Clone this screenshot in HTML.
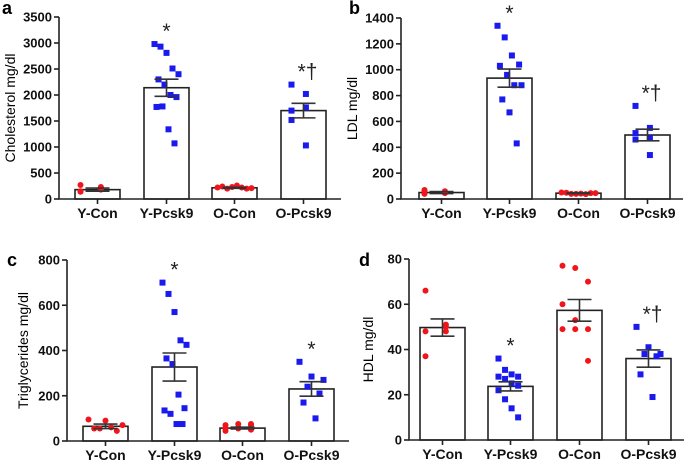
<!DOCTYPE html>
<html><head><meta charset="utf-8"><style>
html,body{margin:0;padding:0;background:#fff;}
svg{display:block;font-family:"Liberation Sans",Arial,sans-serif;}
</style></head><body>
<svg id="fig" width="684" height="463" viewBox="0 0 684 463" xmlns="http://www.w3.org/2000/svg"></svg>
<script>
const categories = ["Y-Con","Y-Pcsk9","O-Con","O-Pcsk9"];
// Panel a: cholesterol
const cholMeans = [180, 2140, 215, 1700];
const cholSem = [30, 165, 10, 140];
const cholPoints = [[270,180,140,230,150,200],[2980,2930,2810,2510,2400,2300,2200,2000,1960,1770,1780,1340,1070],[220,230,200,240,260,210,200,220],[2200,2020,1700,1760,1520,1030]];
const cholTicks = [0,500,1000,1500,2000,2500,3000,3500];
const cholAnno = ["","*","","*†"];
// Panel b: LDL
const ldlMeans = [50, 935, 45, 495];
const ldlSem = [8, 70, 3, 45];
const ldlPoints = [[70,55,40,60,65,45],[1340,1250,1110,1040,1030,960,880,880,770,670,430],[50,40,45,48,42,45,40,38],[720,550,510,470,460,340]];
const ldlTicks = [0,200,400,600,800,1000,1200,1400];
const ldlAnno = ["","*","","*†"];
// Panel c: triglycerides
const tgMeans = [65, 327, 57, 230];
const tgSem = [10, 62, 4, 32];
const tgPoints = [[95,90,70,55,45,55,60],[700,650,570,445,425,365,340,205,145,135,120,75,75],[70,60,75,45,55,50,55,75,70],[350,285,270,240,210,170,100]];
const tgTicks = [0,200,400,600,800];
const tgAnno = ["","*","","*"];
// Panel d: HDL
const hdlMeans = [49.7, 23.7, 57.3, 36];
const hdlSem = [3.8, 2, 4.8, 3.8];
const hdlPoints = [[66,51,48,48,37,50],[36,31,29,28,28,27,25,24,22,18,14,10],[77,76,70,60,53,49,49,49,35],[50,41,38,38,37,29,19]];
const hdlTicks = [0,20,40,60,80];
const hdlAnno = ["","*","","*†"];

const NS="http://www.w3.org/2000/svg";
const svg=document.getElementById('fig');
function mk(tag,attrs,parent){const e=document.createElementNS(NS,tag);for(const k in attrs)e.setAttribute(k,attrs[k]);(parent||svg).appendChild(e);return e;}

function panel(o){
  const g=mk('g',{});
  
  
  const y=v=>o.y0-(v/o.max)*(o.y0-o.yTop);
  const t=mk('text',{x:o.lx,y:o.ly,'font-size':18,'font-weight':'bold',fill:'#000'},g);t.textContent=o.letter;
  
  const yt=mk('text',{x:0,y:0,'font-size':14,fill:'#000','text-anchor':'middle',transform:`translate(${o.tx},${(o.y0+o.yTop)/2}) rotate(-90)`},g);yt.textContent=o.title;
  
  categories.forEach((c,i)=>{
    const x0=o.bx[i], w=45, cx=x0+w/2, pts=o.points[i], red=i%2===0;
    const bar=mk('rect',{x:x0,y:y(o.means[i]),width:w,height:o.y0-y(o.means[i]),fill:'#fff',stroke:'#222','stroke-width':1.6},g);
    
    const n=pts.length, spread=red?34:24;
    pts.forEach((v,j)=>{
      const k=(j*3)%n;
      const off=n>1?(k/(n-1)-0.5)*spread:0;
      let p;
      if(red){p=mk('circle',{cx:cx+off,cy:y(v),r:3,fill:'#f0141b'},g);}
      else{p=mk('rect',{x:cx+off-3,y:y(v)-3,width:6,height:6,fill:'#1a1aee'},g);}
      
    });
    const hi=y(o.means[i]+o.sem[i]), lo=y(o.means[i]-o.sem[i]);
    const eb=mk('path',{d:`M${cx},${hi}V${lo}M${cx-12},${hi}H${cx+12}M${cx-12},${lo}H${cx+12}`,stroke:'#333','stroke-width':1.6,fill:'none'},g);
    
    mk('line',{x1:cx,x2:cx,y1:o.y0,y2:o.y0+5,stroke:'#222','stroke-width':1.6},g);
    const cl=mk('text',{x:cx,y:o.y0+19,'font-size':14,'font-weight':'bold','text-anchor':'middle',fill:'#111'},g);cl.textContent=c;
    
    if(o.anno[i]){
      const mx=Math.max(...pts);
      const an=mk('text',{x:cx+(o.anno[i].length>1?4:0),y:y(mx)-6,'font-size':21,'text-anchor':'middle',fill:'#222'},g);an.textContent=o.anno[i];
      
    }
  });
  const ax=mk('path',{d:`M${o.ax},${o.yTop}V${o.y0}H${o.ax+282}`,stroke:'#222','stroke-width':1.6,fill:'none'},g);
  
  o.ticks.forEach(v=>{
    mk('line',{x1:o.ax-5,x2:o.ax,y1:y(v),y2:y(v),stroke:'#222','stroke-width':1.6},g);
    const tl=mk('text',{x:o.ax-7,y:y(v)+4.5,'font-size':13,'font-weight':'bold','text-anchor':'end',fill:'#111'},g);tl.textContent=v;
    
  });
}
panel({letter:'a',lx:2,ly:14,title:'Cholesterol mg/dl',tx:15,ax:59,y0:199,yTop:17,max:3500,ticks:cholTicks,means:cholMeans,sem:cholSem,points:cholPoints,anno:cholAnno,bx:[75,144,212,281]});
panel({letter:'b',lx:349,ly:14,title:'LDL  mg/dl',tx:357,ax:401,y0:199,yTop:18,max:1400,ticks:ldlTicks,means:ldlMeans,sem:ldlSem,points:ldlPoints,anno:ldlAnno,bx:[419,487,556,625]});
panel({letter:'c',lx:7,ly:266,title:'Triglycerides mg/dl',tx:28,ax:67,y0:441,yTop:260,max:800,ticks:tgTicks,means:tgMeans,sem:tgSem,points:tgPoints,anno:tgAnno,bx:[83,152,220,289]});
panel({letter:'d',lx:359,ly:266,title:'HDL mg/dl',tx:373,ax:409,y0:440,yTop:259,max:80,ticks:hdlTicks,means:hdlMeans,sem:hdlSem,points:hdlPoints,anno:hdlAnno,bx:[420,488,557,626]});
</script>
</body></html>
